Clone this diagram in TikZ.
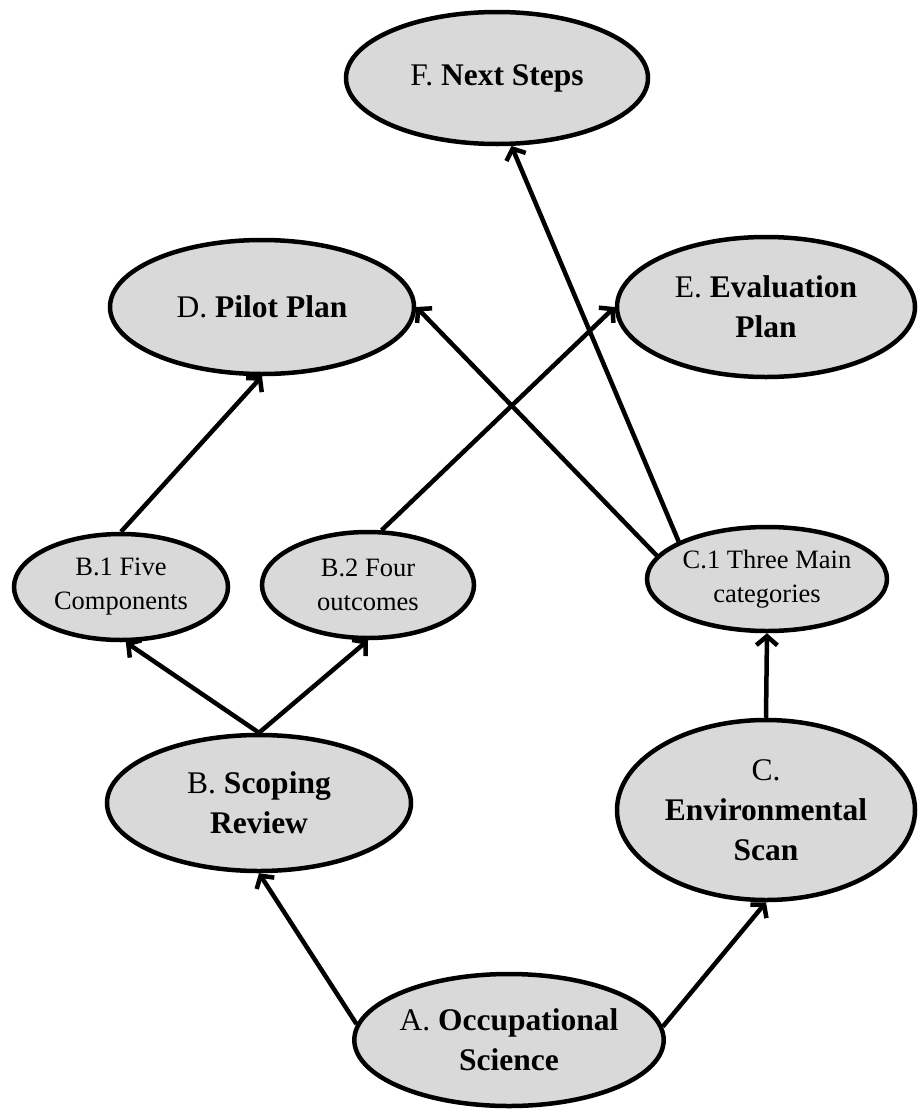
\documentclass[tikz,border=0pt]{standalone}
\usepackage{fontspec}
\setmainfont{Liberation Serif}
\usetikzlibrary{shapes.geometric,arrows.meta}
\definecolor{nodegray}{RGB}{217,217,217}
\begin{document}
\begin{tikzpicture}[x=1pt,y=-1pt,
  bubble/.style={ellipse,draw=black,line width=4.5pt,fill=nodegray,inner sep=0pt,align=center,font=\fontsize{31.5}{40}\selectfont},
  smallbubble/.style={bubble,font=\fontsize{26.5}{34}\selectfont},
  arr/.style={line width=4.5pt,-{Straight Barb[length=9pt,width=21pt]}}]
\useasboundingbox (0,0) rectangle (918,1111);
\node[bubble,minimum width=302pt,minimum height=132pt] (F) at (497,78) {F. \textbf{Next Steps}};
\node[bubble,minimum width=304pt,minimum height=134pt] (D) at (262,307) {D. \textbf{Pilot Plan}};
\node[bubble,minimum width=298pt,minimum height=140pt] (E) at (766,307) {E. \textbf{Evaluation}\\\textbf{Plan}};
\node[smallbubble,minimum width=214pt,minimum height=106pt] (B1) at (121,587) {B.1 Five\\Components};
\node[smallbubble,minimum width=212pt,minimum height=106pt] (B2) at (368,585) {B.2 Four\\outcomes};
\node[smallbubble,minimum width=240pt,minimum height=104pt] (C1) at (767,579) {C.1 Three Main\\categories};
\node[bubble,minimum width=304pt,minimum height=136pt] (B) at (259,803) {B. \textbf{Scoping}\\\textbf{Review}};
\node[bubble,minimum width=298pt,minimum height=180pt] (C) at (766,810) {C.\\\textbf{Environmental}\\\textbf{Scan}};
\node[bubble,minimum width=304pt,minimum height=132pt] (A) at (509,1040) {A. \textbf{Occupational}\\\textbf{Science}};
\draw[arr] (A.174) -- (B.south);
\draw[arr] (A.5) -- (C.south);
\draw[arr] (B.north) -- (B1.275);
\draw[arr] (B.north) -- (B2.south);
\draw[arr] (C.north) -- (C1.south);
\draw[arr] (B1.north) -- (D.south);
\draw[arr] (B2.76) -- (E.west);
\draw[arr] (C1.168) -- (D.east);
\draw[arr] (C1.157) -- (F.282);
\end{tikzpicture}
\end{document}
